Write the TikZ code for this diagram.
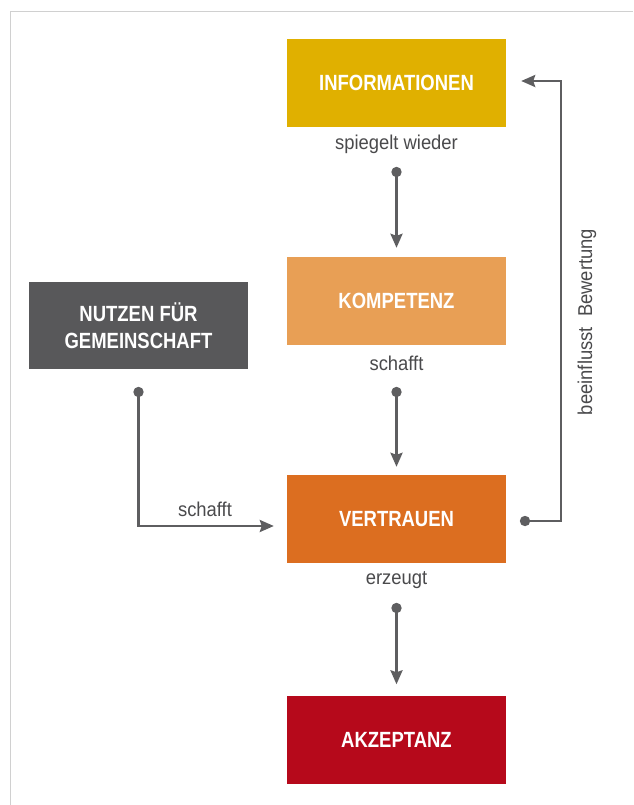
\documentclass[tikz,border=0pt]{standalone}
\usepackage{fontspec}
\setmainfont{Liberation Sans}
\newfontfamily\boxfont[FakeStretch=0.84]{Liberation Sans}
\newfontfamily\labfont[FakeStretch=0.92]{Liberation Sans}
\usetikzlibrary{arrows.meta,calc}
\definecolor{cInfo}{HTML}{E0B000}
\definecolor{cKomp}{HTML}{E89F55}
\definecolor{cVert}{HTML}{DC6E20}
\definecolor{cAkz}{HTML}{B6091B}
\definecolor{cNutz}{HTML}{58585A}
\definecolor{cLine}{HTML}{5E5E60}
\definecolor{cText}{HTML}{4A4A4C}
\definecolor{cFrame}{HTML}{D0D0D0}
\tikzset{
  box/.style={minimum width=219pt, minimum height=88pt, inner sep=0pt, align=center,
    text=white, font=\boxfont\bfseries\fontsize{22}{27}\selectfont},
  lab/.style={text=cText, inner sep=0pt, font=\labfont\fontsize{20}{24}\selectfont},
  conn/.style={draw=cLine, line width=2.6pt, -{Stealth[length=14pt,width=12pt,inset=2pt]}},
  dot/.style={fill=cLine}
}
\begin{document}
\begin{tikzpicture}[x=1pt,y=-1pt]
\useasboundingbox (0,0) rectangle (633,805);
\fill[white] (0,0) rectangle (633,805);
\draw[cFrame, line width=1.5pt] (10.5,805) -- (10.5,11.5) -- (633,11.5);

\node[box, fill=cInfo] (info) at (396.5,83) {INFORMATIONEN};
\node[box, fill=cKomp] (komp) at (396.5,301) {KOMPETENZ};
\node[box, fill=cVert] (vert) at (396.5,519) {VERTRAUEN};
\node[box, fill=cAkz] (akz) at (396.5,739.5) {AKZEPTANZ};
\node[box, fill=cNutz, minimum height=87pt] (nutz) at (138.5,325.5) {NUTZEN FÜR\\GEMEINSCHAFT};

\node[lab] (l1) at (396.5,144) {spiegelt wieder};
\node[lab] (l2) at (396.5,363) {schafft};
\node[lab] (l3) at (396.5,580) {erzeugt};
\node[lab] (l4) at (205,509) {schafft};
\node[lab, rotate=90] (l5) at (587,322) {beeinflusst\ \ Bewertung};

\coordinate (d1) at (396.5,172);
\coordinate (d2) at (396.5,392);
\coordinate (d3) at (396.5,608);
\coordinate (d4) at (138.5,392);
\coordinate (c4) at (138.5,526);
\coordinate (d5) at (525,521);
\coordinate (c5a) at (561,521);
\coordinate (c5b) at (561,81);
\coordinate (t4) at ($(vert.west)+(-13pt,0)$);
\coordinate (t5) at ($(info.east)+(15pt,0)$);

\draw[conn] (d1) -- ([yshift=9pt]komp.north);
\draw[conn] (d2) -- ([yshift=8pt]vert.north);
\draw[conn] (d3) -- ([yshift=11pt]akz.north);
\draw[conn] (d4) -- (c4) -- (c4 -| t4);
\draw[conn] (d5) -- (c5a) -- (c5b) -- (c5b -| t5);

\foreach \d in {d1,d2,d3,d4,d5} \fill[dot] (\d) circle (5.2pt);
\end{tikzpicture}
\end{document}
